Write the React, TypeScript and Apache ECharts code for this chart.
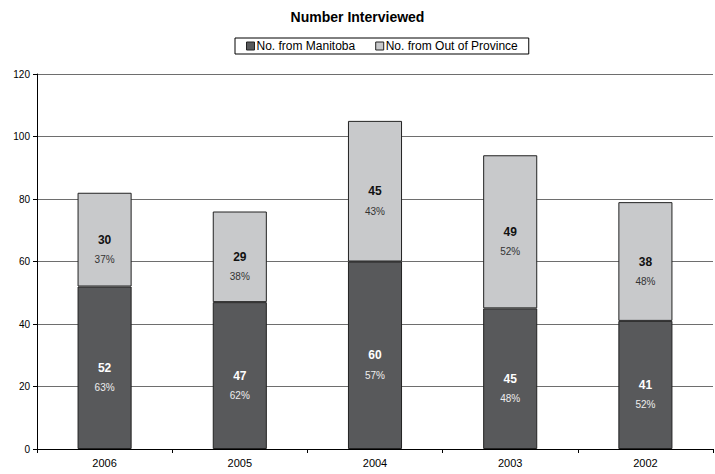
import React, { useEffect, useRef } from "react";
import * as echarts from "echarts";

const categories = ["2006", "2005", "2004", "2003", "2002"];
const manitoba = [52, 47, 60, 45, 41];
const outOfProvince = [30, 29, 45, 49, 38];
const pctManitoba = ["63%", "62%", "57%", "48%", "52%"];
const pctOut = ["37%", "38%", "43%", "52%", "48%"];
const yTicks = [0, 20, 40, 60, 80, 100, 120];

export default function App() {
  const ref = useRef<HTMLDivElement>(null);
  useEffect(() => {
    if (!ref.current) return;
    const chart = echarts.init(ref.current, undefined, { renderer: "svg" });
    const font = "Liberation Sans, Arial, sans-serif";
    chart.setOption({
      animation: false,
      textStyle: { fontFamily: font },
      title: {
        text: "Number Interviewed",
        left: "center",
        top: 5,
        textStyle: { fontSize: 14, fontWeight: "bold", color: "#000", fontFamily: font },
      },
      legend: {
        top: 38,
        left: 235,
        icon: "rect",
        itemWidth: 8,
        itemHeight: 8,
        itemGap: 20,
        borderColor: "#000",
        borderWidth: 1,
        padding: [2, 11, 2, 11],
        textStyle: { fontSize: 12, color: "#000", fontFamily: font, padding: [0, 0, 0, -3] },
        data: [
          { name: "No. from Manitoba", itemStyle: { color: "#58595b", borderColor: "#222", borderWidth: 1 } },
          { name: "No. from Out of Province", itemStyle: { color: "#c8c9cb", borderColor: "#222", borderWidth: 1 } },
        ],
      },
      grid: { left: 37, right: 2, top: 74, bottom: 25, containLabel: false },
      xAxis: {
        type: "category",
        data: categories,
        axisLine: { lineStyle: { color: "#000" } },
        axisTick: { show: true, alignWithLabel: false, length: 4, lineStyle: { color: "#000" } },
        axisLabel: { fontSize: 11, color: "#000", margin: 8, fontFamily: font },
      },
      yAxis: {
        type: "value",
        min: yTicks[0],
        max: yTicks[yTicks.length - 1],
        interval: 20,
        axisLine: { show: true, lineStyle: { color: "#000" } },
        axisTick: { show: true, inside: false, length: 4, lineStyle: { color: "#000" } },
        axisLabel: { fontSize: 10, color: "#000", margin: 7, fontFamily: font },
        splitLine: { show: true, lineStyle: { color: "#6e6e6e", width: 1 } },
      },
      series: [
        {
          name: "No. from Manitoba",
          type: "bar",
          stack: "total",
          barWidth: "40%",
          data: manitoba,
          itemStyle: { color: "#58595b", borderColor: "#222", borderWidth: 1 },
          label: {
            show: true,
            position: "inside",
            offset: [0, 10],
            formatter: (p: any) => `{a|${manitoba[p.dataIndex]}}\n{b|${pctManitoba[p.dataIndex]}}`,
            rich: {
              a: { fontSize: 12, fontWeight: "bold", color: "#fff", lineHeight: 20, fontFamily: font },
              b: { fontSize: 10, color: "#eee", lineHeight: 20, fontFamily: font },
            },
          },
        },
        {
          name: "No. from Out of Province",
          type: "bar",
          stack: "total",
          barWidth: "40%",
          data: outOfProvince,
          itemStyle: { color: "#c8c9cb", borderColor: "#222", borderWidth: 1 },
          label: {
            show: true,
            position: "inside",
            offset: [0, 10],
            formatter: (p: any) => `{a|${outOfProvince[p.dataIndex]}}\n{b|${pctOut[p.dataIndex]}}`,
            rich: {
              a: { fontSize: 12, fontWeight: "bold", color: "#111", lineHeight: 20, fontFamily: font },
              b: { fontSize: 10, color: "#333", lineHeight: 20, fontFamily: font },
            },
          },
        },
      ],
    });
    return () => chart.dispose();
  }, []);
  return <div ref={ref} style={{ width: 715, height: 474, position: "absolute", left: 0, top: 0 }} />;
}
